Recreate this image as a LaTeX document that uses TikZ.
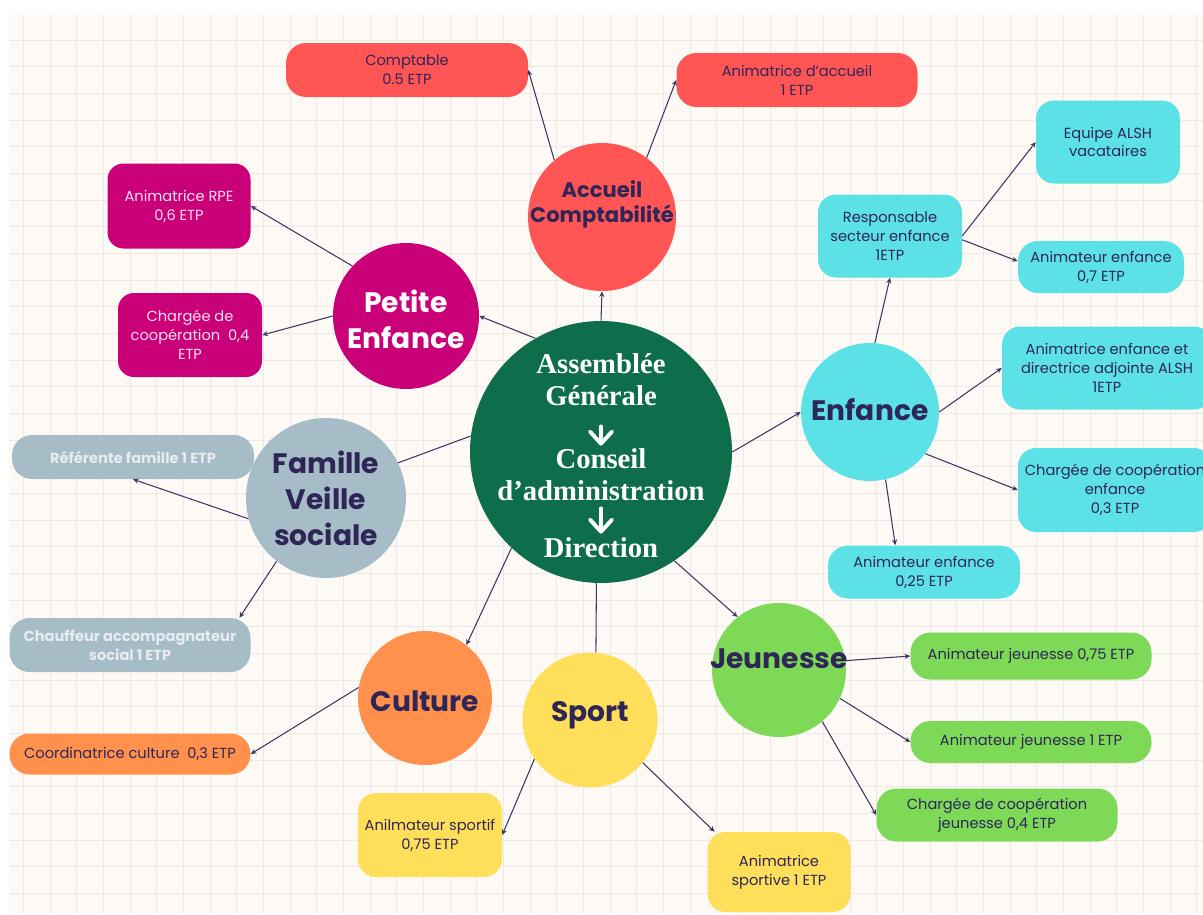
\documentclass[tikz,border=0pt]{standalone}
\usepackage{fontspec}
\setmainfont{Poppins}
\newfontfamily\agfont{Liberation Serif}
\usetikzlibrary{arrows.meta}

\definecolor{paper}{HTML}{FDFAF6}
\definecolor{gridc}{HTML}{EEE7E6}
\definecolor{ink}{HTML}{2E2657}
\definecolor{linkc}{HTML}{3E3563}
\definecolor{hubgreen}{HTML}{0E6E4B}
\definecolor{accred}{HTML}{FF5555}
\definecolor{pemag}{HTML}{CA0078}
\definecolor{famgray}{HTML}{A6BCC6}
\definecolor{enfcyan}{HTML}{5CE1E6}
\definecolor{jeugreen}{HTML}{7ED957}
\definecolor{spoyel}{HTML}{FFDE59}
\definecolor{culor}{HTML}{FF914D}
\definecolor{palegray}{HTML}{E6ECEF}
\definecolor{palepink}{HTML}{F6E1EE}

\newcommand{\pxl}{0.025cm}
\newcommand{\postfont}{\fontsize{10.4pt}{13.5pt}\selectfont}
\newcommand{\hubfont}{\fontsize{20pt}{25.6pt}\selectfont\bfseries}
\newcommand{\accfont}{\fontsize{15pt}{17.8pt}\selectfont\bfseries}
\newcommand{\agtitle}{\agfont\bfseries\fontsize{20.4pt}{22.8pt}\selectfont}

\tikzset{
  gridline/.style={draw=gridc, line width=0.6pt},
  disc/.style={circle, inner sep=0pt, minimum size=#1*\pxl},
  hubname/.style={inner sep=0pt, align=center, text=ink, font=\hubfont},
  agtext/.style={inner sep=0pt, align=center, text=white, font=\agtitle},
  post/.style={rectangle, inner sep=0pt, align=center, text=ink, font=\postfont, rounded corners=0.5cm},
  boxsize/.style 2 args={minimum width=#1*\pxl, minimum height=#2*\pxl},
  link/.style={draw=linkc, line width=0.75pt, -{Stealth[length=4pt,width=3.6pt]}},
  bare/.style={draw=linkc, line width=0.75pt},
  downarrow/.style={draw=white, line width=2.8pt, line cap=round, -{Straight Barb[length=0.3cm,width=0.55cm,round]}},
}

\begin{document}
\begin{tikzpicture}[x=\pxl, y=-\pxl]
% paper and grid
\useasboundingbox (0,0) rectangle (1203,914);
\fill[paper] (9,15) rectangle (1203,913);
\foreach \k in {0,...,44}
  \draw[gridline] ({23.333+26.667*\k},15) -- ({23.333+26.667*\k},913);
\foreach \k in {0,...,32}
  \draw[gridline] (9,{40+26.667*\k}) -- (1203,{40+26.667*\k});

% central circle
\node[disc=262, fill=hubgreen] (hub) at (601,452) {};
\node[agtext] (ag) at (601,380) {Assemblée\\Générale};
\node[agtext] (ca) at (601,475) {Conseil\\d’administration};
\node[agtext] (dir) at (601,548) {Direction};
\draw[downarrow, shorten <=0.5cm, shorten >=0.075cm] (ag) -- (ca);
\draw[downarrow, shorten <=0.175cm, shorten >=0.1cm] (ca) -- (dir);

% sectors
\node[disc=148, fill=accred, label={[hubname, font=\accfont, yshift=0.325cm]center:Accueil\\Comptabilité}] (acc) at (602,217) {};
\node[disc=146, fill=pemag, label={[hubname, text=white, yshift=-0.075cm]center:Petite\\Enfance}] (pe) at (406,316) {};
\node[disc=160, fill=famgray, label={[hubname]center:Famille\\Veille\\sociale}] (fam) at (326,498) {};
\node[disc=138, fill=enfcyan, label={[hubname, yshift=0.05cm]center:Enfance}] (enf) at (870,412) {};
\node[disc=134, fill=jeugreen, label={[hubname, yshift=0.275cm]center:Jeunesse}] (jeu) at (779,670) {};
\node[disc=135, fill=spoyel, label={[hubname, yshift=0.125cm]center:Sport}] (spo) at (590,720) {};
\node[disc=134, fill=culor, label={[hubname, yshift=-0.075cm]center:Culture}] (cul) at (425,698) {};

% posts
\node[post, boxsize={242}{54}, fill=accred] (cpt) at (407,70) {Comptable\\0.5 ETP};
\node[post, boxsize={241}{54}, fill=accred] (acl) at (797,80) {Animatrice d’accueil\\1 ETP};
\node[post, boxsize={143}{85}, fill=pemag, text=palepink, rounded corners=0.4cm] (rpe) at (179,206) {Animatrice RPE\\0,6 ETP};
\node[post, boxsize={144}{84}, fill=pemag, text=palepink, rounded corners=0.4cm] (cco) at (190,335) {Chargée de\\coopération~~0,4\\ETP};
\node[post, boxsize={242}{44}, fill=famgray, text=palegray, font=\postfont\bfseries] (ref) at (133,457) {Référente famille 1 ETP};
\node[post, boxsize={241}{54}, fill=famgray, text=palegray, font=\postfont\bfseries] (chf) at (130,645) {Chauffeur accompagnateur\\social 1 ETP};
\node[post, boxsize={241}{41}, fill=culor] (crd) at (130,754) {Coordinatrice culture~~0,3 ETP};
\node[post, boxsize={144}{84}, fill=spoyel, rounded corners=0.45cm] (asp) at (430,835) {Anilmateur sportif\\0,75 ETP};
\node[post, boxsize={143}{80}, fill=spoyel, rounded corners=0.45cm] (asv) at (779,872) {Animatrice\\sportive 1 ETP};
\node[post, boxsize={241}{47}, fill=jeugreen] (aj75) at (1031,656) {Animateur jeunesse 0,75 ETP};
\node[post, boxsize={241}{42}, fill=jeugreen] (aj1) at (1031,742) {Animateur jeunesse 1 ETP};
\node[post, boxsize={241}{53}, fill=jeugreen] (cjj) at (997,815) {Chargée de coopération\\jeunesse 0,4 ETP};
\node[post, boxsize={192}{53}, fill=enfcyan] (ae25) at (924,572) {Animateur enfance\\0,25 ETP};
\node[post, boxsize={194}{84}, fill=enfcyan, rounded corners=0.45cm] (cce) at (1115,490) {Chargée de coopération\\enfance\\0,3 ETP};
\node[post, boxsize={210}{83}, fill=enfcyan, rounded corners=0.45cm] (aed) at (1107,368) {Animatrice enfance et\\directrice adjointe ALSH\\1ETP};
\node[post, boxsize={144}{83}, fill=enfcyan, rounded corners=0.45cm] (rse) at (890,236) {Responsable\\secteur enfance\\1ETP};
\node[post, boxsize={144}{83}, fill=enfcyan, rounded corners=0.45cm] (eqp) at (1108,142) {Equipe ALSH\\vacataires};
\node[post, boxsize={166}{52}, fill=enfcyan] (ae7) at (1101,267) {Animateur enfance\\0,7 ETP};

% connectors
\draw[link] (hub.north) -- (acc.south);
\draw[link] (acc.130) -- (cpt.east);
\draw[link] (acc.53) -- (acl.west);
\draw[link] (hub.120) -- (pe.east);
\draw[link] (pe.137) -- (rpe.east);
\draw[link] (pe.west) -- (cco.east);
\draw[bare] (hub.173) -- (fam.26);
\draw[link] (fam.195) -- (ref.south);
\draw[link] (fam.232) -- (chf.14);
\draw[link] (hub.227) -- (cul.52);
\draw[link] (cul.171) -- (crd.east);
\draw[bare] (hub.268) -- (spo.85);
\draw[link] (spo.215) -- (asp.east);
\draw[link] (spo.-39) -- (asv.148);
\draw[link] (hub.-56) -- (jeu.128);
\draw[link] (jeu.8) -- (aj75.west);
\draw[link] (jeu.-25) -- (aj1.west);
\draw[link] (jeu.-50) -- (cjj.west);
\draw[link] (hub.east) -- (enf.west);
\draw[link] (enf.86) -- (rse.south);
\draw[link] (rse.east) -- (eqp.west);
\draw[link] (rse.-3) -- (ae7.176);
\draw[link] (enf.east) -- (aed.west);
\draw[link] (enf.-37) -- (cce.west);
\draw[link] (enf.-77) -- (ae25.137);
\end{tikzpicture}
\end{document}
